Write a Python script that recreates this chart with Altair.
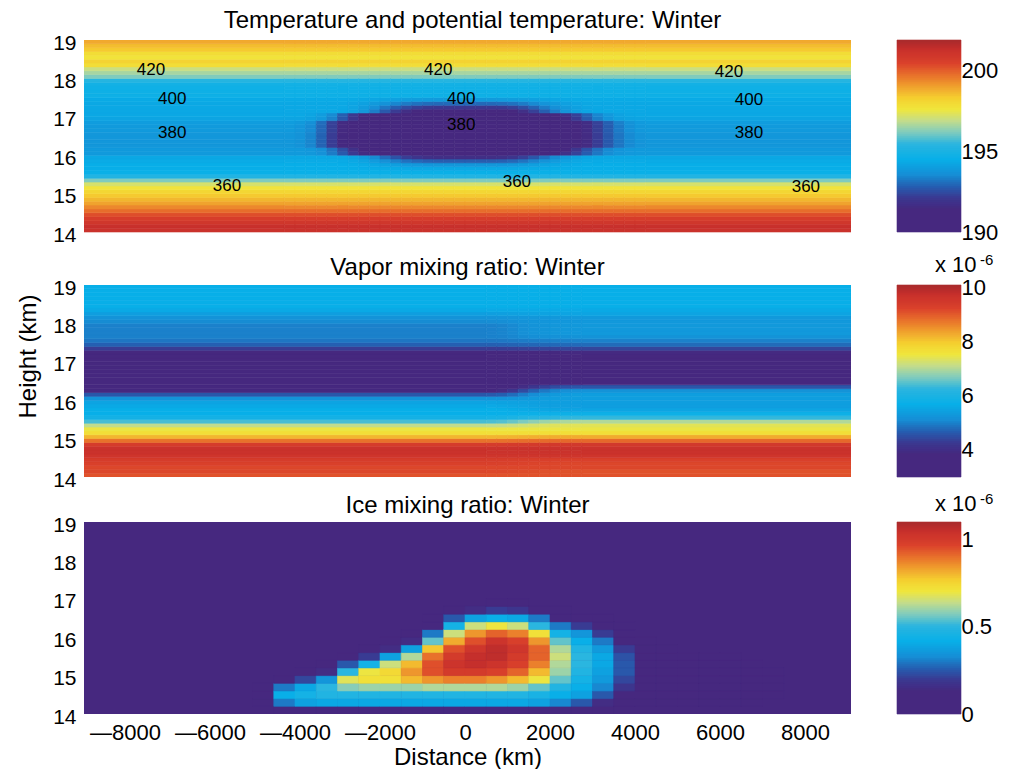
import numpy as np
import pandas as pd
import altair as alt

FONT = "Liberation Sans"

# Model domain (km) and panel geometry
X_DOMAIN = [-8965, 9082]
Z_DOMAIN = [14.0, 19.0]
PANEL_W, PANEL_H = 767, 192
BAR_W = 64
TOP_ROW_H = 200  # the upper row carries a little extra blank room below its plot

# "jet"-style colormap with a purple floor: fractional stops and colours
CMAP_STOPS = [0.0, 0.12, 0.18, 0.24, 0.30, 0.38, 0.46, 0.52, 0.58, 0.64,
              0.70, 0.76, 0.82, 0.88, 0.95, 1.0]
CMAP_COLORS = ["#46287f", "#46287f", "#3a3a92", "#2560b2", "#168fd6", "#08afe8",
               "#2cb6df", "#7fcbbf", "#c4dd8c", "#f0e63c", "#f5cf30", "#f0a02e",
               "#e8702b", "#db422b", "#c8302c", "#a82a2d"]

# 0.1 km model levels, 14.0 .. 19.0 km
LEVEL_EDGES = [round(14.0 + 0.1 * i, 1) for i in range(51)]

# ---------------- Temperature (K), bottom level first ----------------
TEMP_RANGE = [190.0, 201.9]
TEMP_OUTER = [201.2, 201.3, 201.0, 200.7, 200.3, 199.8, 199.4, 199.0, 198.7, 198.4,
              198.1, 197.7, 197.2, 196.2, 195.2, 194.6, 194.5, 194.5, 194.4, 194.3,
              193.9, 193.9, 193.8, 193.8, 193.8, 193.8, 193.9, 193.9, 194.0, 194.2,
              194.3, 194.3, 194.3, 194.3, 194.4, 194.7, 194.7, 194.7, 194.8, 195.3,
              196.2, 196.6, 197.0, 197.9, 198.2, 197.7, 197.9, 198.4, 198.6, 198.9]
TEMP_CORE = [201.2, 201.3, 201.0, 200.7, 200.3, 199.8, 199.4, 199.0, 198.7, 198.4,
             198.1, 197.7, 197.2, 196.2, 195.2, 194.6, 194.3, 193.8, 192.8, 191.7,
             190.8, 190.3, 190.2, 190.2, 190.2, 190.2, 190.2, 190.2, 190.2, 190.2,
             190.4, 191.0, 192.0, 193.0, 193.9, 194.7, 194.7, 194.7, 194.8, 195.3,
             196.2, 196.6, 197.0, 197.9, 198.2, 197.7, 197.9, 198.4, 198.6, 198.9]
# which horizontal extent of the cold core applies at each level:
# "i" centre of the core, "m" its shoulders, "o" its top and bottom fringe
TEMP_CORE_TIER = ["o"] * 15 + ["o", "o", "o", "o", "o",
                               "m", "m", "i", "i", "i", "i", "i", "i", "i", "m",
                               "m", "o", "o", "o", "o"] + ["o"] * 15
# share of the cold core in each distance column, per tier
TEMP_COL_EDGES = [X_DOMAIN[0]] + list(range(-4250, 4251, 250)) + [X_DOMAIN[1]]
TEMP_CORE_WEIGHT = {
    "i": [0.0,
          0.0, 0.03, 0.10, 0.25, 0.45, 0.65, 0.80, 0.90, 0.96,
          1.0, 1.0, 1.0, 1.0, 1.0, 1.0, 1.0, 1.0,
          1.0, 1.0, 1.0, 1.0, 1.0, 1.0, 1.0, 1.0,
          0.95, 0.88, 0.78, 0.62, 0.45, 0.30, 0.17, 0.08, 0.02,
          0.0],
    "m": [0.0,
          0.0, 0.0, 0.02, 0.08,
          0.20, 0.38, 0.58, 0.75, 0.87, 0.95, 0.99,
          1.0, 1.0, 1.0, 1.0, 1.0, 1.0, 1.0, 1.0, 1.0, 1.0, 1.0, 1.0,
          0.98, 0.92, 0.82, 0.68, 0.52, 0.36, 0.22, 0.11, 0.04, 0.01, 0.0,
          0.0],
    "o": [0.0,
          0.0, 0.0, 0.0, 0.0, 0.0, 0.0,
          0.05, 0.15, 0.30, 0.48, 0.65, 0.80, 0.90, 0.97,
          1.0, 1.0, 1.0, 1.0, 1.0, 1.0,
          0.97, 0.90, 0.78, 0.62, 0.45, 0.30, 0.17, 0.08, 0.02,
          0.0, 0.0, 0.0, 0.0, 0.0,
          0.0],
}

# potential temperature contour labels
THETA_X = [-7390, -6890, -6890, -5600, -630, -90, -90, 1220, 6210, 6680, 6680, 8020]
THETA_Z = [18.22, 17.46, 16.58, 15.20, 18.22, 17.46, 16.79, 15.30, 18.17, 17.44, 16.58, 15.17]
THETA_TEXT = ["420", "400", "380", "360", "420", "400", "380", "360", "420", "400", "380", "360"]

# ---------------- Vapor mixing ratio (1e-6), bottom level first ----------------
VAPOR_RANGE = [3.0, 10.1]
VAPOR_WEST = [9.1, 9.2, 9.2, 9.3, 9.4, 9.6, 9.7, 9.7, 9.4, 8.8,
              8.2, 7.7, 7.5, 7.1, 6.4, 5.9, 5.7, 5.7, 5.6, 5.5,
              5.2, 4.6, 3.8, 3.4, 3.3, 3.3, 3.3, 3.3, 3.3, 3.3,
              3.3, 3.4, 3.7, 4.3, 4.7, 4.9, 5.0, 5.0, 5.0, 5.0,
              5.1, 5.2, 5.4, 5.6, 5.7, 5.7, 5.7, 5.7, 5.7, 5.7]
VAPOR_EAST = [9.1, 9.1, 9.2, 9.2, 9.3, 9.6, 9.7, 9.7, 9.5, 8.9,
              8.3, 7.7, 7.5, 7.4, 7.0, 6.3, 5.8, 5.5, 5.4, 5.4,
              5.4, 5.4, 5.2, 4.6, 3.8, 3.5, 3.4, 3.4, 3.4, 3.4,
              3.4, 3.5, 3.9, 4.4, 4.8, 5.0, 5.2, 5.3, 5.3, 5.3,
              5.3, 5.3, 5.5, 5.6, 5.7, 5.7, 5.7, 5.7, 5.7, 5.7]
VAPOR_COL_EDGES = [X_DOMAIN[0], 500, 750, 1000, 1250, 1500, 1750, 2000, 2250, 2500, 2750, X_DOMAIN[1]]
VAPOR_EAST_WEIGHT = [0.0, 0.04, 0.12, 0.28, 0.48, 0.66, 0.80, 0.90, 0.96, 0.99, 1.0]

# ---------------- Ice mixing ratio (1e-8), 500 km x 0.2 km cells ----------------
ICE_RANGE = [0.0, 1.1]
ICE_X_EDGES = list(range(-5000, 7501, 500))
ICE_Z_EDGES = [round(14.0 + 0.2 * i, 1) for i in range(16)]
ICE_COLUMNS = [
    [0, 5, 12, 5, 0, 0, 0, 0, 0, 0, 0, 0, 0, 0, 0],
    [8, 30, 42, 30, 8, 0, 0, 0, 0, 0, 0, 0, 0, 0, 0],
    [10, 38, 45, 40, 22, 5, 0, 0, 0, 0, 0, 0, 0, 0, 0],
    [12, 40, 48, 50, 35, 15, 3, 0, 0, 0, 0, 0, 0, 0, 0],
    [12, 40, 48, 58, 68, 50, 25, 8, 0, 0, 0, 0, 0, 0, 0],
    [12, 40, 48, 60, 72, 70, 45, 20, 5, 0, 0, 0, 0, 0, 0],
    [12, 40, 48, 60, 72, 74, 65, 38, 15, 3, 0, 0, 0, 0, 0],
    [12, 40, 48, 60, 80, 85, 80, 62, 38, 15, 3, 0, 0, 0, 0],
    [12, 40, 48, 62, 85, 95, 95, 90, 78, 55, 30, 12, 3, 0, 0],
    [12, 40, 48, 62, 88, 100, 103, 100, 95, 82, 65, 45, 25, 6, 0],
    [12, 40, 48, 62, 88, 100, 105, 105, 102, 95, 85, 65, 38, 15, 0],
    [12, 40, 48, 62, 85, 98, 103, 106, 106, 103, 92, 70, 42, 20, 2],
    [12, 40, 48, 60, 80, 92, 98, 100, 102, 98, 88, 65, 40, 18, 2],
    [10, 38, 46, 55, 70, 80, 88, 92, 92, 85, 72, 50, 30, 8, 0],
    [8, 32, 42, 48, 55, 60, 62, 65, 62, 55, 45, 30, 12, 2, 0],
    [5, 25, 38, 42, 45, 48, 50, 50, 48, 42, 35, 20, 6, 0, 0],
    [3, 15, 25, 32, 36, 38, 40, 40, 36, 30, 20, 8, 2, 0, 0],
    [2, 8, 12, 18, 22, 25, 25, 24, 20, 12, 6, 2, 0, 0, 0],
    [0, 3, 5, 8, 10, 12, 12, 10, 6, 3, 0, 0, 0, 0, 0],
    [0, 2, 4, 6, 8, 9, 8, 5, 2, 0, 0, 0, 0, 0, 0],
    [0, 2, 4, 6, 7, 7, 5, 3, 0, 0, 0, 0, 0, 0, 0],
    [0, 2, 3, 5, 6, 6, 4, 2, 0, 0, 0, 0, 0, 0, 0],
    [0, 1, 3, 4, 5, 4, 3, 1, 0, 0, 0, 0, 0, 0, 0],
    [0, 1, 2, 3, 3, 3, 2, 0, 0, 0, 0, 0, 0, 0, 0],
    [0, 0, 1, 2, 2, 1, 0, 0, 0, 0, 0, 0, 0, 0, 0],
]

X_TICKS = [-8000, -6000, -4000, -2000, 0, 2000, 4000, 6000, 8000]
Z_TICKS = [14, 15, 16, 17, 18, 19]


def color_scale(lo, hi):
    return alt.Scale(domain=[round(lo + t * (hi - lo), 4) for t in CMAP_STOPS],
                     range=CMAP_COLORS, interpolate="rgb", clamp=True, nice=False, zero=False)


def temperature_cells():
    rows = []
    for j in range(len(TEMP_COL_EDGES) - 1):
        for i in range(len(TEMP_OUTER)):
            w = TEMP_CORE_WEIGHT[TEMP_CORE_TIER[i]][j]
            rows.append({"x0": TEMP_COL_EDGES[j], "x1": TEMP_COL_EDGES[j + 1],
                         "z0": LEVEL_EDGES[i], "z1": LEVEL_EDGES[i + 1],
                         "v": round(TEMP_OUTER[i] + w * (TEMP_CORE[i] - TEMP_OUTER[i]), 3)})
    return pd.DataFrame(rows)


def vapor_cells():
    rows = []
    for j, w in enumerate(VAPOR_EAST_WEIGHT):
        for i in range(len(VAPOR_WEST)):
            rows.append({"x0": VAPOR_COL_EDGES[j], "x1": VAPOR_COL_EDGES[j + 1],
                         "z0": LEVEL_EDGES[i], "z1": LEVEL_EDGES[i + 1],
                         "v": round(VAPOR_WEST[i] + w * (VAPOR_EAST[i] - VAPOR_WEST[i]), 3)})
    return pd.DataFrame(rows)


def ice_cells():
    rows = [{"x0": X_DOMAIN[0], "x1": X_DOMAIN[1], "z0": Z_DOMAIN[0], "z1": Z_DOMAIN[1], "v": 0.0}]
    for j, col in enumerate(ICE_COLUMNS):
        for i, val in enumerate(col):
            if val > 0:
                rows.append({"x0": ICE_X_EDGES[j], "x1": ICE_X_EDGES[j + 1],
                             "z0": ICE_Z_EDGES[i], "z1": ICE_Z_EDGES[i + 1],
                             "v": val / 100.0})
    return pd.DataFrame(rows)


def y_axis(show_title):
    return alt.Axis(values=Z_TICKS, format="d", ticks=False, domain=False, grid=False,
                    labelFontSize=21, labelPadding=8, labelOffset=3, labelColor="black",
                    labelOverlap=False,
                    title="Height (km)", titleFontSize=24, titleFontWeight="normal",
                    titlePadding=12, titleColor="black", titleOpacity=1 if show_title else 0,
                    titleY=71)


def x_axis():
    return alt.Axis(values=X_TICKS, ticks=False, domain=False, grid=False,
                    labelExpr="datum.value < 0 ? '\u2014' + format(-datum.value, 'd') : format(datum.value, 'd')",
                    labelFontSize=22, labelPadding=8, labelColor="black", labelOverlap=False,
                    title="Distance (km)", titleFontSize=24, titleFontWeight="normal",
                    titlePadding=2, titleColor="black")


X_SCALE = alt.Scale(domain=X_DOMAIN, nice=False, zero=False)


def z_scale(domain):
    return alt.Scale(domain=domain, range=[PANEL_H, 0], nice=False, zero=False)


def heat(df, scale, show_ytitle, show_x):
    return alt.Chart(df).mark_rect(clip=True, strokeWidth=0.6).encode(
        x=alt.X("x0:Q", scale=X_SCALE, axis=x_axis() if show_x else None),
        x2="x1:Q",
        y=alt.Y("z0:Q", scale=z_scale(Z_DOMAIN), axis=y_axis(show_ytitle)),
        y2="z1:Q",
        color=alt.Color("v:Q", scale=scale, legend=None),
        stroke=alt.Stroke("v:Q", scale=scale, legend=None),
    )


def colorbar(lo, hi, ticks, fmt, scale, exp_y, height):
    edges = np.linspace(lo, hi, 97)
    df = pd.DataFrame({"b0": edges[:-1], "b1": edges[1:], "v": (edges[:-1] + edges[1:]) / 2})
    bar = alt.Chart(df).mark_rect(strokeWidth=0.6).encode(
        x=alt.value(0), x2=alt.value(BAR_W),
        y=alt.Y("b0:Q", scale=z_scale([lo, hi]),
                axis=alt.Axis(orient="right", values=ticks, format=fmt, ticks=False,
                              domain=False, grid=False, labelFontSize=22, labelPadding=0,
                              labelColor="black", labelOverlap=False, title=None)),
        y2="b1:Q",
        color=alt.Color("v:Q", scale=scale, legend=None),
        stroke=alt.Stroke("v:Q", scale=scale, legend=None),
    )
    layers = [bar]
    if exp_y is not None:
        one = pd.DataFrame({"k": [0]})
        layers.append(alt.Chart(one).mark_text(fontSize=22, align="left", baseline="alphabetic",
                                               color="black").encode(
            x=alt.value(38), y=alt.value(exp_y), text=alt.value("x 10")))
        layers.append(alt.Chart(one).mark_text(fontSize=15, align="left", baseline="alphabetic",
                                               color="black").encode(
            x=alt.value(83), y=alt.value(exp_y - 7), text=alt.value("-6")))
    return alt.layer(*layers).properties(width=BAR_W, height=height)


def panel_title(text, offset, dx=0):
    return alt.TitleParams(text, fontSize=24, fontWeight="normal", color="black",
                           anchor="middle", offset=offset, frame="group", dx=dx)


# ---- Temperature panel ----
temp_scale = color_scale(*TEMP_RANGE)
theta_df = pd.DataFrame({"x0": THETA_X, "z0": THETA_Z, "t": THETA_TEXT})
temp_heat = heat(temperature_cells(), temp_scale, False, False)
theta_text = alt.Chart(theta_df).mark_text(fontSize=17, color="black").encode(
    x=alt.X("x0:Q", scale=X_SCALE, axis=None),
    y=alt.Y("z0:Q", scale=z_scale(Z_DOMAIN), axis=y_axis(False)),
    text="t:N")
temp_view = alt.layer(temp_heat, theta_text).properties(
    width=PANEL_W, height=TOP_ROW_H,
    title=panel_title("Temperature and potential temperature: Winter", -1, dx=5))
temp_bar = colorbar(*TEMP_RANGE, [190, 195, 200], "d", temp_scale, None, TOP_ROW_H)

# ---- Vapor panel ----
vapor_scale = color_scale(*VAPOR_RANGE)
vapor_view = heat(vapor_cells(), vapor_scale, True, False).properties(
    width=PANEL_W, height=PANEL_H, title=panel_title("Vapor mixing ratio: Winter", -3))
vapor_bar = colorbar(*VAPOR_RANGE, [4, 6, 8, 10], "d", vapor_scale, -13, PANEL_H)

# ---- Ice panel ----
ice_scale = color_scale(*ICE_RANGE)
ice_view = heat(ice_cells(), ice_scale, False, True).properties(
    width=PANEL_W, height=PANEL_H, title=panel_title("Ice mixing ratio: Winter", -4))
ice_bar = colorbar(*ICE_RANGE, [0, 0.5, 1], "~g", ice_scale, -11, PANEL_H)

chart = alt.concat(
    temp_view, temp_bar, vapor_view, vapor_bar, ice_view, ice_bar,
    columns=2, spacing={"row": 45, "column": 46}, bounds="flush",
).resolve_scale(
    color="independent", stroke="independent", x="independent", y="independent"
).properties(
    padding={"left": 16, "top": 9, "right": 0, "bottom": 0},
    background="white",
).configure(font=FONT).configure_view(stroke=None).configure_title(font=FONT).configure_axis(
    labelFont=FONT, titleFont=FONT).configure_text(font=FONT)

chart.save("out.html", embed_options={"renderer": "svg", "actions": False})
